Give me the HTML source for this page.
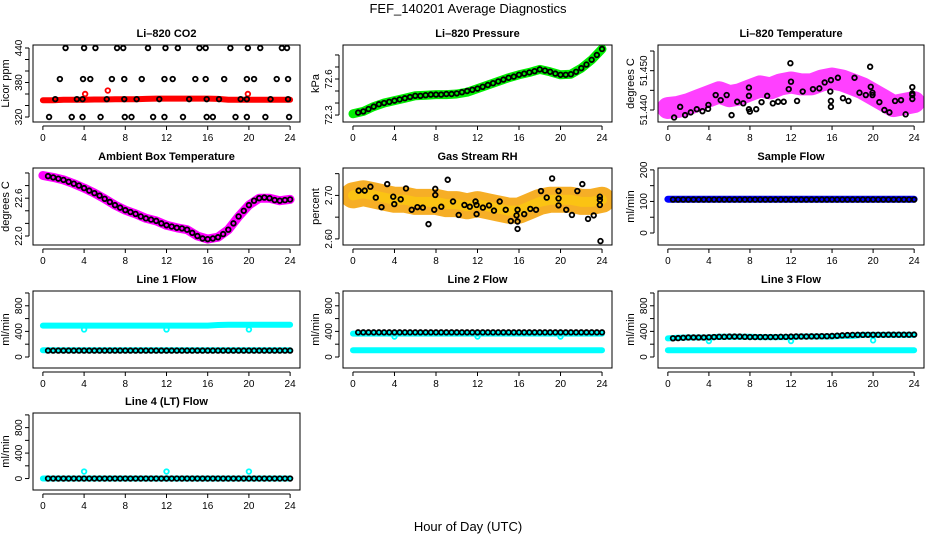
<!DOCTYPE html>
<html><head><meta charset="utf-8"><style>
html,body{margin:0;padding:0;background:#fff;}
svg{display:block;font-family:"Liberation Sans",Arial,sans-serif;}
</style></head><body>
<svg id="chart" width="936" height="540" viewBox="0 0 936 540" xmlns="http://www.w3.org/2000/svg">
<rect x="0" y="0" width="936" height="540" fill="#fff"/>
<text x="468" y="13" text-anchor="middle" font-size="13" fill="#000">FEF_140201  Average Diagnostics</text>
<text x="468" y="531" text-anchor="middle" font-size="13" fill="#000">Hour of Day (UTC)</text>
</svg>
<script>
const hoursH = [0,1,2,3,4,5,6,7,8,9,10,11,12,13,14,15,16,17,18,19,20,21,22,23,24];
const hoursHalf = [0.5,1,1.5,2,2.5,3,3.5,4,4.5,5,5.5,6,6.5,7,7.5,8,8.5,9,9.5,10,10.5,11,11.5,12,12.5,13,13.5,14,14.5,15,15.5,16,16.5,17,17.5,18,18.5,19,19.5,20,20.5,21,21.5,22,22.5,23,23.5,24];
const xTicks = [0,4,8,12,16,20,24];

// Li-820 CO2
const co2Band = [349,349,350,350,350,350.5,350.5,351,351,351,351.5,352,352,352,352,352,352,351.5,350,350,350,350,350,350,350];
const co2PtHours = [2.2,4.0,5.1,7.2,7.8,10.2,11.9,13.1,15.2,15.8,18.2,19.9,21.1,23.2,23.7,
 1.65,3.9,4.6,6.7,7.9,9.6,11.8,12.6,14.8,15.8,17.6,19.8,20.5,22.7,23.8,
 1.2,3.3,3.85,6.2,7.9,9.1,11.3,14.2,15.9,17.1,19.2,19.8,22.1,23.8,
 0.6,2.8,3.85,5.6,7.95,8.6,10.7,11.8,13.6,15.9,16.5,18.7,19.8,21.6,23.9];
const co2PtVals = [440,440,440,440,440,440,440,440,440,440,440,440,440,440,440,
 386,386,386,386,386,386,386,386,386,386,386,386,386,386,386,
 351,351,351,351,351,351,351,351,351,351,351,351,351,351,
 320,320,320,320,320,320,320,320,320,320,320,320,320,320,320];
const co2RedHours = [4.1,6.3,19.9];
const co2RedVals = [360,366,360];

// Li-820 Pressure
const presBand = [72.31,72.33,72.37,72.40,72.42,72.44,72.46,72.465,72.47,72.47,72.475,72.49,72.52,72.55,72.58,72.61,72.635,72.655,72.68,72.66,72.635,72.64,72.69,72.76,72.85];
const presPts = [72.32,72.33,72.35,72.37,72.39,72.40,72.41,72.42,72.43,72.44,72.45,72.46,72.46,72.465,72.47,72.47,72.47,72.475,72.475,72.48,72.49,72.50,72.51,72.52,72.535,72.55,72.565,72.58,72.595,72.61,72.62,72.635,72.645,72.655,72.665,72.68,72.67,72.66,72.645,72.635,72.635,72.64,72.66,72.69,72.72,72.76,72.80,72.85];

// Li-820 Temperature
const tempBand = [51.4405,51.4408,51.4415,51.4425,51.4435,51.4445,51.4435,51.444,51.445,51.446,51.4455,51.4465,51.447,51.4465,51.4465,51.4475,51.448,51.4475,51.4465,51.4455,51.444,51.4425,51.441,51.4415,51.442];
const tempPtHours = [0.61,1.2,1.68,2.23,2.82,3.37,3.92,3.95,4.66,5.15,5.73,6.21,6.76,7.35,7.9,7.9,7.9,7.99,8.61,9.13,9.68,10.23,10.74,11.29,11.78,12.0,11.94,12.59,13.14,14.14,14.76,15.28,15.83,15.89,15.89,15.89,16.57,17.06,17.6,18.19,18.67,19.29,19.71,19.77,19.94,19.94,20.61,21.1,21.59,22.14,22.72,23.17,23.82,23.82,23.82,23.82];
const tempPtVals = [51.4381,51.4408,51.4387,51.4394,51.4402,51.4397,51.4403,51.4413,51.4438,51.4425,51.4438,51.4387,51.4421,51.4417,51.4436,51.4457,51.4402,51.4396,51.4402,51.4420,51.4436,51.4417,51.4421,51.4421,51.4453,51.4472,51.4519,51.4423,51.4447,51.4453,51.4455,51.4470,51.4447,51.4476,51.4423,51.4408,51.4482,51.4430,51.4423,51.4482,51.4444,51.4438,51.4510,51.4459,51.4444,51.4438,51.4420,51.4400,51.4394,51.4423,51.4425,51.4389,51.4458,51.4442,51.4438,51.4428];

// Ambient Box Temperature
const ambBand = [22.96,22.93,22.89,22.83,22.76,22.68,22.59,22.49,22.41,22.35,22.28,22.24,22.17,22.13,22.10,22.00,21.95,21.98,22.10,22.31,22.49,22.60,22.60,22.56,22.58];
const ambPts = [22.95,22.93,22.91,22.89,22.86,22.83,22.80,22.76,22.72,22.68,22.64,22.59,22.54,22.49,22.45,22.41,22.38,22.35,22.31,22.28,22.26,22.24,22.20,22.17,22.15,22.13,22.12,22.10,22.05,22.00,21.96,21.95,21.96,21.98,22.03,22.10,22.20,22.31,22.40,22.49,22.56,22.60,22.61,22.60,22.57,22.56,22.57,22.58];

// Gas Stream RH
const rhBand = [2.70,2.705,2.70,2.695,2.69,2.69,2.685,2.685,2.685,2.68,2.68,2.675,2.68,2.675,2.67,2.665,2.665,2.675,2.685,2.69,2.69,2.69,2.685,2.685,2.69];
const rhPtHours = [0.55,1.13,1.68,2.2,2.75,3.3,3.88,3.98,4.6,5.11,5.66,6.21,6.73,7.28,7.83,7.93,7.93,8.51,9.13,9.64,10.19,10.74,11.26,11.81,11.91,11.91,12.52,13.11,13.59,14.14,14.72,15.21,15.76,15.86,15.86,15.86,16.5,17.09,17.64,18.12,18.67,19.19,19.81,19.81,19.81,20.55,21.1,22.1,21.62,22.65,23.2,23.79,23.79,23.79,23.85];
const rhPtVals = [2.711,2.711,2.720,2.695,2.673,2.726,2.697,2.680,2.691,2.716,2.667,2.673,2.672,2.634,2.667,2.715,2.701,2.674,2.736,2.686,2.655,2.678,2.674,2.686,2.678,2.657,2.672,2.677,2.665,2.686,2.667,2.641,2.654,2.667,2.640,2.623,2.657,2.669,2.667,2.710,2.695,2.739,2.710,2.693,2.677,2.667,2.655,2.726,2.710,2.646,2.654,2.697,2.690,2.678,2.595];

// Sample Flow
const sampleBand = [107,107,107,107,107,107,107,107,107,107,107,107,107,107,107,107,107,107,107,107,107,107,107,107,107];
const samplePts = [106,106,106,106,106,106,106,106,106,106,106,106,106,106,106,106,106,106,106,106,106,106,106,106,106,106,106,106,106,106,106,106,106,106,106,106,106,106,106,106,106,106,106,106,106,106,106,106];

// Line flows
const line1BandHi = [490,490,490,490,490,490,490,490,490,490,490,490,490,490,490,490,490,500,505,505,505,505,505,505,505];
const line1BandLo = [105,105,105,105,105,105,105,105,105,105,105,105,105,105,105,105,105,105,105,105,105,105,105,105,105];
const line1Pts = [100,100,100,100,100,100,100,100,100,100,100,100,100,100,100,100,100,100,100,100,100,100,100,100,100,100,100,100,100,100,100,100,100,100,100,100,100,100,100,100,100,100,100,100,100,100,100,100];
const dipHours = [4,12,20];
const line1Dips = [430,430,430];

const line2BandHi = [365,365,365,365,365,365,365,365,365,365,365,365,365,365,365,365,365,365,365,365,365,365,365,365,365];
const line2BandLo = [105,105,105,105,105,105,105,105,105,105,105,105,105,105,105,105,105,105,105,105,105,105,105,105,105];
const line2Pts = [385,385,385,385,385,385,385,385,385,385,385,385,385,385,385,385,385,385,385,385,385,385,385,385,385,385,385,385,385,385,385,385,385,385,385,385,385,385,385,385,385,385,385,385,385,385,385,385];
const line2Dips = [320,320,320];

const line3BandHi = [290,300,305,305,305,315,315,315,315,310,310,310,310,320,320,320,320,330,330,345,345,345,345,345,345];
const line3BandLo = [105,105,105,105,105,105,105,105,105,105,105,105,105,105,105,105,105,105,105,105,105,105,105,105,105];
const line3Pts = [292,295,300,305,305,305,305,308,312,315,315,318,318,318,315,312,312,312,312,312,312,315,315,318,320,320,320,322,322,325,325,328,332,338,342,345,346,346,347,347,347,347,348,348,348,348,348,350];
const line3Dips = [250,250,260];

const line4Band = [0,0,0,0,0,0,0,0,0,0,0,0,0,0,0,0,0,0,0,0,0,0,0,0,0];
const line4Pts = [0,0,0,0,0,0,0,0,0,0,0,0,0,0,0,0,0,0,0,0,0,0,0,0,0,0,0,0,0,0,0,0,0,0,0,0,0,0,0,0,0,0,0,0,0,0,0,0];
const line4Spikes = [110,110,110];

const yTicksCO2 = [320,340,360,380,400,420,440], yLabCO2 = ["320","","","380","","","440"];
const yTicksPres = [72.3,72.4,72.5,72.6,72.7,72.8], yLabPres = ["72.3","","","72.6","",""];
const yTicksTemp = [51.440,51.445,51.450,51.455], yLabTemp = ["51.440","","51.450",""];
const yTicksAmb = [22.0,22.2,22.4,22.6,22.8,23.0], yLabAmb = ["22.0","","","22.6","",""];
const yTicksRH = [2.60,2.65,2.70,2.75], yLabRH = ["2.60","","2.70",""];
const yTicksSample = [0,50,100,150,200], yLabSample = ["0","","100","","200"];
const yTicksFlow = [0,200,400,600,800,1000], yLabFlow = ["0","","400","","800",""];

const NS = "http://www.w3.org/2000/svg";
const svg = document.getElementById('chart');
function el(tag, attrs, parent){ const e=document.createElementNS(NS,tag); for(const k in attrs) e.setAttribute(k,attrs[k]); (parent||svg).appendChild(e); return e; }

const colsX = [[33,300],[343,612],[658,924]];
const rowsY = [45,168,291,413];
const BOXH = 77;

function panel(name, title, col, row, ybot, ytop, yTicks, yLabs, ylab, draw){
  const g = el('g',{});
  
  
  const L=colsX[col][0], R=colsX[col][1], T=rowsY[row], B=T+BOXH;
  const xs = h => L + (R-L)*(h + 0.96)/25.92;
  const ys = v => B - BOXH*(v - ybot)/(ytop - ybot);
  const clipId = 'clip-'+name;
  const cp = el('clipPath',{id:clipId}, g);
  el('rect',{x:L,y:T,width:R-L,height:BOXH}, cp);
  const pg = el('g',{'clip-path':'url(#'+clipId+')'}, g);
  
  
  draw(pg, xs, ys);
  const box = el('rect',{x:L,y:T,width:R-L,height:BOXH,fill:'none',stroke:'#000','stroke-width':1}, g);
  
  
  const tt = el('text',{x:(L+R)/2,y:T-8,'text-anchor':'middle','font-size':11,'font-weight':'bold'}, g);
  tt.textContent = title;
  
  
  const xa = el('g',{}, g);
  
  
  el('line',{x1:xs(0),x2:xs(24),y1:B+4,y2:B+4,stroke:'#000'}, xa);
  xTicks.forEach(t=>{
    el('line',{x1:xs(t),x2:xs(t),y1:B+4,y2:B+8,stroke:'#000'}, xa);
    const tx = el('text',{x:xs(t),y:B+19,'text-anchor':'middle','font-size':10}, xa);
    tx.textContent = String(t);
    
    
  });
  const ya = el('g',{}, g);
  
  
  el('line',{x1:L-4,x2:L-4,y1:ys(yTicks[0]),y2:ys(yTicks[yTicks.length-1]),stroke:'#000'}, ya);
  yTicks.forEach((t,i)=>{
    el('line',{x1:L-8,x2:L-4,y1:ys(t),y2:ys(t),stroke:'#000'}, ya);
    if(yLabs[i]){
      const yy=ys(t), xx=L-11;
      const tx = el('text',{x:xx,y:yy,'text-anchor':'middle','font-size':10,transform:'rotate(-90 '+xx+' '+yy+')'}, ya);
      tx.textContent = yLabs[i];
      
      
    }
  });
  const yx=L-24, yy=(T+B)/2;
  const yl = el('text',{x:yx,y:yy,'text-anchor':'middle','font-size':11,transform:'rotate(-90 '+yx+' '+yy+')'}, g);
  yl.textContent = ylab;
  
  
}

function band(g, xs, ys, hours, vals, color, w, op){
  const pts = hours.map((h,i)=>xs(h).toFixed(1)+','+ys(vals[i]).toFixed(1)).join(' ');
  const p = el('polyline',{points:pts,fill:'none',stroke:color,'stroke-width':w,'stroke-linejoin':'round','stroke-linecap':'round',opacity:op||1}, g);
  
  
}
function dots(g, xs, ys, hours, vals, color, r){
  hours.forEach((h,i)=>{
    const c = el('circle',{cx:xs(h),cy:ys(vals[i]),r:r||2.3,fill:'none',stroke:color,'stroke-width':1.8}, g);
    
    
  });
}

panel('co2-panel','Li\u2013820 CO2',0,0,311.3,445.2,yTicksCO2,yLabCO2,'Licor ppm',(g,xs,ys)=>{
  band(g,xs,ys,hoursH,co2Band,'#ff0000',6);
  dots(g,xs,ys,co2RedHours,co2RedVals,'#ff0000');
  dots(g,xs,ys,co2PtHours,co2PtVals,'#000');
});
panel('pressure-panel','Li\u2013820 Pressure',1,0,72.242,72.883,yTicksPres,yLabPres,'kPa',(g,xs,ys)=>{
  band(g,xs,ys,hoursH,presBand,'#00ee00',9);
  dots(g,xs,ys,hoursHalf,presPts,'#000');
});
panel('temperature-panel','Li\u2013820 Temperature',2,0,51.43695,51.45653,yTicksTemp,yLabTemp,'degrees C',(g,xs,ys)=>{
  band(g,xs,ys,hoursH,tempBand,'#ff00ff',22,0.75);
  dots(g,xs,ys,tempPtHours,tempPtVals,'#000');
});
panel('ambient-panel','Ambient Box Temperature',0,1,21.857,23.079,yTicksAmb,yLabAmb,'degrees C',(g,xs,ys)=>{
  band(g,xs,ys,hoursH,ambBand,'#ff00ff',9);
  dots(g,xs,ys,hoursHalf,ambPts,'#000');
});
panel('rh-panel','Gas Stream RH',1,1,2.586,2.763,yTicksRH,yLabRH,'percent',(g,xs,ys)=>{
  band(g,xs,ys,hoursH,rhBand,'#f4a000',26,0.85);
  band(g,xs,ys,hoursH,rhBand,'#ffd800',10,0.5);
  dots(g,xs,ys,rhPtHours,rhPtVals,'#000');
});
panel('sample-flow-panel','Sample Flow',2,1,-38,206,yTicksSample,yLabSample,'ml/min',(g,xs,ys)=>{
  band(g,xs,ys,hoursH,sampleBand,'#0000ff',7);
  dots(g,xs,ys,hoursHalf,samplePts,'#000');
});
panel('line1-flow-panel','Line 1 Flow',0,2,-172,1031,yTicksFlow,yLabFlow,'ml/min',(g,xs,ys)=>{
  band(g,xs,ys,hoursH,line1BandHi,'#00ffff',6);
  band(g,xs,ys,hoursH,line1BandLo,'#00ffff',6);
  dots(g,xs,ys,dipHours,line1Dips,'#00ffff');
  dots(g,xs,ys,hoursHalf,line1Pts,'#000');
});
panel('line2-flow-panel','Line 2 Flow',1,2,-172,1031,yTicksFlow,yLabFlow,'ml/min',(g,xs,ys)=>{
  band(g,xs,ys,hoursH,line2BandHi,'#00ffff',6);
  band(g,xs,ys,hoursH,line2BandLo,'#00ffff',6);
  dots(g,xs,ys,dipHours,line2Dips,'#00ffff');
  dots(g,xs,ys,hoursHalf,line2Pts,'#000');
});
panel('line3-flow-panel','Line 3 Flow',2,2,-172,1031,yTicksFlow,yLabFlow,'ml/min',(g,xs,ys)=>{
  band(g,xs,ys,hoursH,line3BandHi,'#00ffff',6);
  band(g,xs,ys,hoursH,line3BandLo,'#00ffff',6);
  dots(g,xs,ys,dipHours,line3Dips,'#00ffff');
  dots(g,xs,ys,hoursHalf,line3Pts,'#000');
});
panel('line4-flow-panel','Line 4 (LT) Flow',0,3,-180,1030,yTicksFlow,yLabFlow,'ml/min',(g,xs,ys)=>{
  band(g,xs,ys,hoursH,line4Band,'#00ffff',6);
  dots(g,xs,ys,dipHours,line4Spikes,'#00ffff');
  dots(g,xs,ys,hoursHalf,line4Pts,'#000');
});
</script>
</body></html>
